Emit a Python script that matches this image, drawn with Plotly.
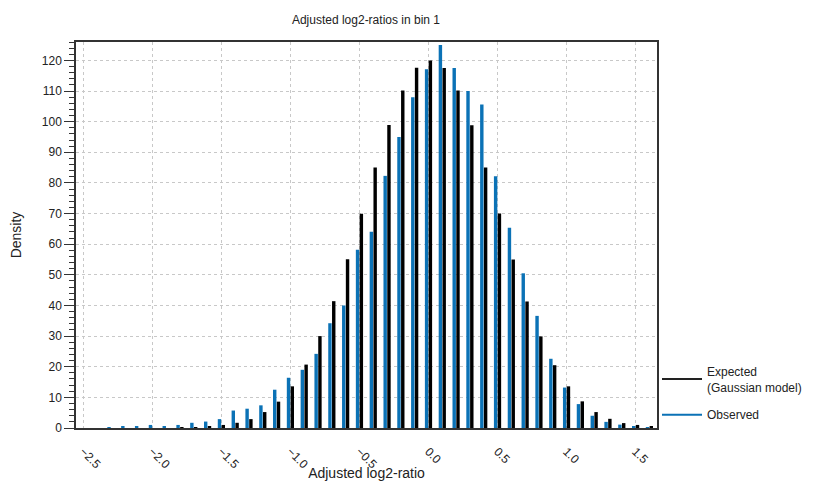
import plotly.graph_objects as go

# bin centres of the adjusted log2-ratio histogram
bins = [-2.3, -2.2, -2.1, -2.0, -1.9, -1.8, -1.7, -1.6, -1.5, -1.4,
        -1.3, -1.2, -1.1, -1.0, -0.9, -0.8, -0.7, -0.6, -0.5, -0.4,
        -0.3, -0.2, -0.1, 0.0, 0.1, 0.2, 0.3, 0.4, 0.5, 0.6,
        0.7, 0.8, 0.9, 1.0, 1.1, 1.2, 1.3, 1.4, 1.5, 1.6]

observed = [0.3, 0.6, 0.4, 1.0, 0.6, 1.0, 1.7, 2.1, 2.9, 5.7,
            6.3, 7.4, 12.5, 16.4, 19.0, 24.2, 34.2, 40.0, 58.2, 64.1,
            82.3, 95.0, 108.0, 117.1, 125.0, 117.5, 110.0, 105.6, 82.2, 65.4,
            50.5, 36.6, 22.6, 13.2, 7.8, 4.0, 2.0, 1.1, 0.5, 0.1]

expected = [0.0, 0.0, 0.0, 0.0, 0.0, 0.1, 0.2, 0.5, 1.0, 1.7,
            2.9, 5.2, 8.6, 13.6, 20.7, 30.0, 41.4, 55.1, 69.9, 85.0,
            98.9, 110.2, 117.6, 120.0, 117.5, 110.2, 98.8, 85.0, 70.0, 55.0,
            41.3, 29.9, 20.5, 13.6, 8.7, 5.2, 3.0, 1.6, 1.0, 0.5]

x_ticks = [-2.5, -2.0, -1.5, -1.0, -0.5, 0.0, 0.5, 1.0, 1.5]

BLUE = '#0b72b6'
BLACK = '#000000'
FONT = 'Liberation Sans, Arial, sans-serif'

fig = go.Figure()
fig.add_trace(go.Bar(x=bins, y=observed, marker=dict(color=BLUE, line=dict(width=0)),
                     name='Observed', showlegend=False))
fig.add_trace(go.Bar(x=bins, y=expected, marker=dict(color=BLACK, line=dict(width=0)),
                     name='Expected', showlegend=False))

# legend entries drawn as line samples
fig.add_trace(go.Scatter(x=[None], y=[None], mode='lines', line=dict(color='#222222', width=2),
                         name='Expected<br>(Gaussian model)', legendgroup='exp'))
fig.add_trace(go.Scatter(x=[None], y=[None], mode='lines', line=dict(color=BLUE, width=2),
                         name='Observed', legendgroup='obs'))

# page body adds an 8px margin, so the figure is drawn 8px smaller
fig.update_layout(
    width=813, height=473,
    margin=dict(l=68, r=164, t=34, b=53),
    paper_bgcolor='white', plot_bgcolor='white',
    font=dict(family=FONT, size=12, color='#222222'),
    title=dict(text='Adjusted log2-ratios in bin 1', x=0.4403, xanchor='center',
               y=0.975, yanchor='middle', yref='container', font=dict(size=12)),
    barmode='group', bargap=0.45, bargroupgap=0.1,
    legend=dict(x=1.0, xanchor='left', y=0.184, yanchor='top', bgcolor='rgba(0,0,0,0)',
                font=dict(size=12), tracegroupgap=9, itemwidth=40),
)

fig.update_xaxes(
    range=[-2.553, 1.655], automargin=False,
    tickvals=x_ticks, tickformat='.1f', tickangle=45,
    ticks='', ticklabelstandoff=10,
    showgrid=True, gridcolor='#c8c8c8', griddash='dot', gridwidth=1,
    showline=True, linecolor='#333333', linewidth=1.5, mirror=True,
    zeroline=False,
    title=dict(text='Adjusted log2-ratio', standoff=2),
)
fig.update_yaxes(
    range=[0, 126], automargin=False,
    dtick=10, ticks='outside', ticklen=10, tickcolor='#333333', tickwidth=1,
    minor=dict(dtick=2, ticks='outside', ticklen=5, tickcolor='#333333', showgrid=False),
    showgrid=True, gridcolor='#c8c8c8', griddash='dot', gridwidth=1,
    showline=True, linecolor='#333333', linewidth=1.5, mirror=True,
    zeroline=False,
    title=dict(text='Density', standoff=24),
)

fig.write_html('out.html')
